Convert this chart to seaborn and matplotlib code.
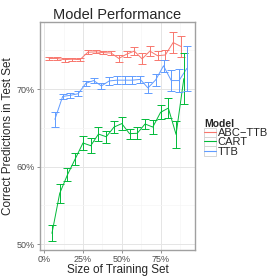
import numpy as np
import pandas as pd
import matplotlib
matplotlib.use("Agg")
import matplotlib.pyplot as plt
from matplotlib.patches import Rectangle
from matplotlib.ticker import FixedLocator, FuncFormatter
import seaborn as sns

# training set size (%) for each point
sizes = [5, 10, 15, 20, 25, 30, 35, 40, 45, 50, 55, 60, 65, 70, 75, 80, 85, 90]

# mean accuracy (%) and error half-widths
abc_ttb = [73.95, 73.95, 73.8, 73.85, 73.8, 74.75, 74.8, 74.7, 74.65, 73.95,
           74.5, 74.9, 73.9, 74.9, 74.3, 74.4, 76.0, 75.5]
abc_ttb_err = [0.15, 0.15, 0.25, 0.2, 0.2, 0.25, 0.2, 0.2, 0.2, 0.4,
               0.35, 0.5, 0.7, 0.6, 0.6, 0.7, 1.3, 1.4]
cart = [51.4, 56.55, 58.95, 61.0, 63.05, 62.7, 64.2, 63.85, 65.1, 65.55,
        64.25, 64.3, 65.5, 65.1, 67.0, 67.55, 64.15, 71.35]
cart_err = [1.05, 1.25, 0.85, 0.8, 0.9, 1.0, 0.9, 0.8, 0.75, 0.8,
            0.65, 0.75, 0.7, 0.9, 0.9, 1.3, 1.7, 3.3]
ttb = [66.1, 69.05, 69.2, 69.4, 70.75, 71.1, 70.4, 71.05, 71.15, 71.15,
       71.15, 71.25, 70.15, 71.2, 73.0, 71.1, 71.1, 72.65]
ttb_err = [1.0, 0.3, 0.3, 0.35, 0.35, 0.35, 0.35, 0.5, 0.5, 0.5,
           0.5, 0.5, 0.7, 0.75, 0.8, 1.4, 1.5, 2.85]

models = ["ABC\u2212TTB", "CART", "TTB"]
colors = {"ABC\u2212TTB": "#F8766D", "CART": "#00BA38", "TTB": "#619CFF"}
dodge = {"ABC\u2212TTB": -1.9, "CART": 0.0, "TTB": 1.9}

frames = []
for name, vals, errs in zip(models, [abc_ttb, cart, ttb], [abc_ttb_err, cart_err, ttb_err]):
    frames.append(pd.DataFrame({"size": sizes, "acc": vals, "err": errs, "Model": name}))
df = pd.concat(frames, ignore_index=True)
df["xpos"] = df["size"] + df["Model"].map(dodge)

sns.set_style("white")
plt.rcParams["font.family"] = ["Liberation Sans", "DejaVu Sans"]

fig = plt.figure(figsize=(2.8, 2.8), dpi=100)
ax = fig.add_axes([40 / 280, 1 - 250 / 280, 155 / 280, 228 / 280])

sns.lineplot(data=df, x="xpos", y="acc", hue="Model", hue_order=models,
             palette=colors, linewidth=0.7, ax=ax, legend=False)
for name in models:
    d = df[df["Model"] == name]
    ax.errorbar(d["xpos"], d["acc"], yerr=d["err"], fmt="none",
                ecolor=colors[name], elinewidth=0.7, capsize=2.8, capthick=0.7)

ax.set_xlim(-2.7, 97.2)
ax.set_ylim(49.25, 78.65)
ax.xaxis.set_major_locator(FixedLocator([0, 25, 50, 75]))
ax.xaxis.set_minor_locator(FixedLocator([12.5, 37.5, 62.5, 87.5]))
ax.yaxis.set_major_locator(FixedLocator([50, 60, 70]))
ax.yaxis.set_minor_locator(FixedLocator([55, 65, 75]))
pct = FuncFormatter(lambda v, p: "%d%%" % v)
ax.xaxis.set_major_formatter(pct)
ax.yaxis.set_major_formatter(pct)

ax.grid(which="major", color="#E5E5E5", linewidth=0.7)
ax.grid(which="minor", color="#F5F5F5", linewidth=0.5)
ax.set_axisbelow(True)
for s in ax.spines.values():
    s.set_color("#A0A0A0")
    s.set_linewidth(1.0)
ax.tick_params(which="major", length=2.2, width=0.6, color="#808080",
               labelsize=6.5, labelcolor="#4D4D4D", pad=1.5, left=True, bottom=True)
ax.tick_params(which="minor", length=0)

ax.set_title("Model Performance", fontsize=10.5, pad=2)
ax.set_xlabel("Size of Training Set", fontsize=8.5, labelpad=0)
ax.set_ylabel("Correct Predictions in Test Set", fontsize=8.5, labelpad=2)

# legend keys: grey-edged box with a coloured line, like ggplot
handles = [(Rectangle((0, 0), 1, 1, facecolor="white", edgecolor="#D0D0D0", linewidth=0.6),
            plt.Line2D([], [], color=colors[m], linewidth=0.8)) for m in models]
leg = fig.legend(handles, models, title="Model", loc="upper left",
                 bbox_to_anchor=(196 / 280, 1 - 111 / 280), frameon=False,
                 fontsize=8, title_fontsize=7.5, handlelength=1.1, handleheight=0.9,
                 handletextpad=0.15, labelspacing=-0.1, borderpad=0.2)
leg.get_title().set_fontweight("bold")
leg._legend_box.align = "left"

fig.savefig("out.png", dpi=100)
